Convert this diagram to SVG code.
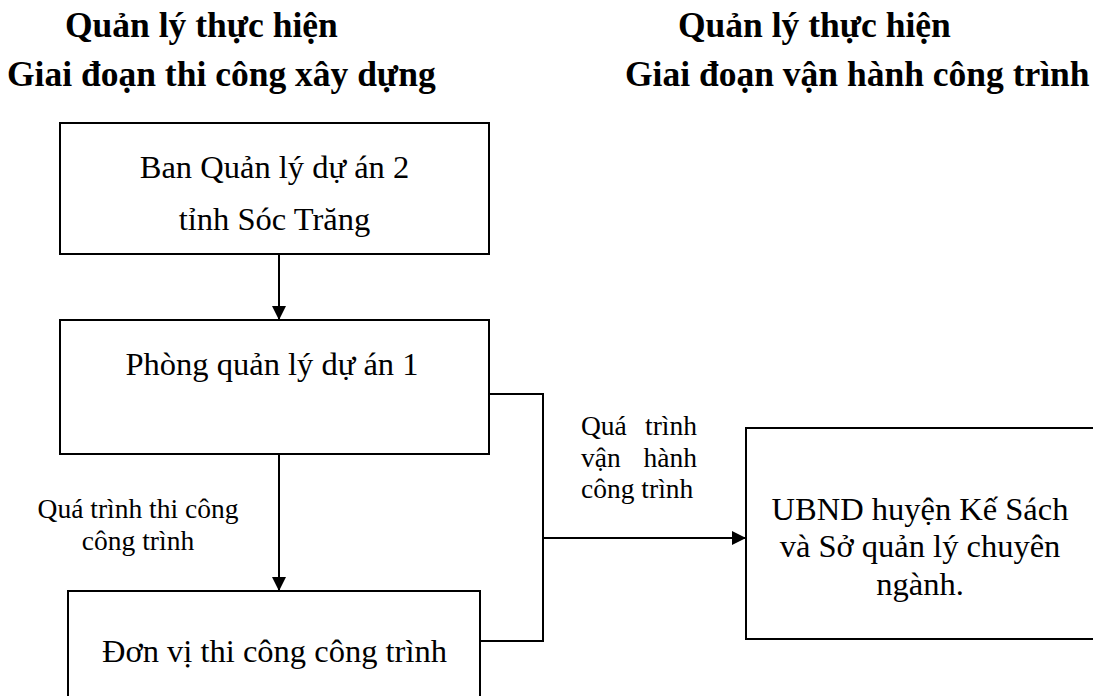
<svg xmlns="http://www.w3.org/2000/svg" width="1093" height="696" viewBox="0 0 1093 696">
<defs>
<marker id="arr" viewBox="0 0 14 14" refX="14" refY="7" markerWidth="14" markerHeight="14" markerUnits="userSpaceOnUse" orient="auto">
<path d="M0,0 L14,7 L0,14 Z" fill="#000"/>
</marker>
<style>
.box{fill:#fff;stroke:#000;stroke-width:2}
.ln{fill:none;stroke:#000;stroke-width:2}
.t{font-family:"Liberation Serif","Times New Roman",serif;font-size:32.5px;fill:#000}
.h{font-family:"Liberation Serif","Times New Roman",serif;font-size:35.5px;font-weight:bold;fill:#000}
.l{font-family:"Liberation Serif","Times New Roman",serif;font-size:27.5px;fill:#000}
</style>
</defs>
<rect width="1093" height="696" fill="#fff"/>
<g id="titles">
<text class="h" x="65" y="37">Quản lý thực hiện</text>
<text class="h" x="7" y="86">Giai đoạn thi công xây dựng</text>
<text class="h" x="678" y="37">Quản lý thực hiện</text>
<text class="h" x="625" y="86">Giai đoạn vận hành công trình</text>
</g>
<g id="connectors">
<line class="ln" x1="279" y1="254" x2="279" y2="320" marker-end="url(#arr)"/>
<line class="ln" x1="279" y1="454" x2="279" y2="591" marker-end="url(#arr)"/>
<polyline class="ln" points="489,394 543,394 543,641 480,641"/>
<line class="ln" x1="543" y1="538" x2="746" y2="538" marker-end="url(#arr)"/>
</g>
<g id="node-ban-qlda">
<rect class="box" x="60" y="123" width="429" height="131"/>
<text class="t" x="274.5" y="178" text-anchor="middle">Ban Quản lý dự án 2</text>
<text class="t" x="274.5" y="230" text-anchor="middle">tỉnh Sóc Trăng</text>
</g>
<g id="node-phong-qlda">
<rect class="box" x="60" y="320" width="429" height="134"/>
<text class="t" x="272" y="375" text-anchor="middle">Phòng quản lý dự án 1</text>
</g>
<g id="node-don-vi">
<rect class="box" x="68" y="591" width="412" height="120"/>
<text class="t" x="274.5" y="662" text-anchor="middle">Đơn vị thi công công trình</text>
</g>
<g id="node-ubnd">
<rect class="box" x="746" y="428" width="360" height="211"/>
<text class="t" x="920" y="520" text-anchor="middle">UBND huyện Kế Sách</text>
<text class="t" x="920" y="557" text-anchor="middle">và Sở quản lý chuyên</text>
<text class="t" x="920" y="595" text-anchor="middle">ngành.</text>
</g>
<g id="labels">
<text class="l" x="138" y="518" text-anchor="middle">Quá trình thi công</text>
<text class="l" x="138" y="550" text-anchor="middle">công trình</text>
<text class="l" x="581" y="435">Quá</text>
<text class="l" x="697" y="435" text-anchor="end">trình</text>
<text class="l" x="581" y="467">vận</text>
<text class="l" x="697" y="467" text-anchor="end">hành</text>
<text class="l" x="581" y="498">công trình</text>
</g>
</svg>
